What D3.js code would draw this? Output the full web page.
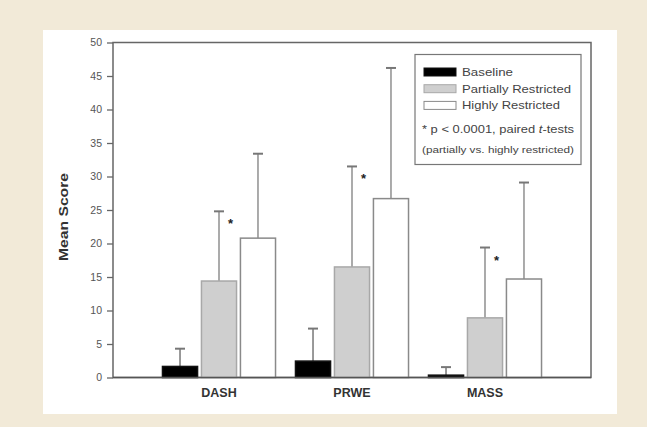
<!DOCTYPE html>
<html>
<head>
<meta charset="utf-8">
<script src="https://cdn.jsdelivr.net/npm/d3@7"></script>
<style>
  body { margin: 0; background: #f2ead8; }
  svg { display: block; font-family: "Liberation Sans", Arial, sans-serif; }
</style>
</head>
<body>
<div id="chart"></div>
<script>
// data
const categories = ["DASH", "PRWE", "MASS"];
const seriesNames = ["Baseline", "Partially Restricted", "Highly Restricted"];
const baselineMean = [1.65, 2.45, 0.35];
const baselineSD = [2.65, 4.85, 1.2];
const partialMean = [14.4, 16.5, 8.9];
const partialSD = [10.4, 15.0, 10.5];
const highMean = [20.8, 26.7, 14.7];
const highSD = [12.6, 19.5, 14.4];
const starValues = [23.1, 29.8, 17.5];
const yTicks = [0, 5, 10, 15, 20, 25, 30, 35, 40, 45, 50];

main();

function main() {
    const W = 647, H = 427;
    const left = 113, right = 591, top = 42.5, bottom = 377.5;

    const fills = {"Baseline": "#000000", "Partially Restricted": "#cfcfcf", "Highly Restricted": "#ffffff"};
    const strokes = {"Baseline": "#111111", "Partially Restricted": "#a8a8a8", "Highly Restricted": "#8a8a8a"};
    const legendWidths = {"Baseline": 51, "Partially Restricted": 109, "Highly Restricted": 98};

    const means = [baselineMean, partialMean, highMean];
    const sds = [baselineSD, partialSD, highSD];

    let bars = [];
    categories.forEach((c, i) => {
        seriesNames.forEach((s, j) => {
            bars.push({cat: c, series: s, mean: means[j][i], sd: sds[j][i]});
        });
    });

    let svg = d3.select("#chart").append("svg")
        .attr("width", W)
        .attr("height", H);

    // white panel
    svg.append("rect")
        .attr("x", 43).attr("y", 30)
        .attr("width", 574).attr("height", 384)
        .attr("fill", "#ffffff");

    let x = d3.scaleBand()
        .domain(categories)
        .range([left, right])
        .paddingInner(0.15)
        .paddingOuter(0.372);

    let xs = d3.scaleBand()
        .domain(seriesNames)
        .range([0, x.bandwidth()])
        .paddingInner(0.1);

    let y = d3.scaleLinear()
        .domain([0, 50])
        .range([bottom, top]);

    // frame
    svg.append("rect")
        .attr("x", left).attr("y", top)
        .attr("width", right - left).attr("height", bottom - top)
        .attr("fill", "none")
        .attr("stroke", "#666")
        .attr("stroke-width", 1.5);

    // y axis
    let yAxis = svg.append("g")
        .attr("transform", "translate(" + left + ",0)")
        .call(d3.axisLeft(y).tickValues(yTicks).tickSize(6).tickPadding(5));
    yAxis.select(".domain").remove();
    yAxis.selectAll("line").attr("stroke", "#666").attr("stroke-width", 1.3);
    yAxis.selectAll("text")
        .attr("fill", "#555")
        .style("font-size", "10.5px");

    // error bars (upper only)
    let g = svg.append("g");
    let errs = g.selectAll(".err")
        .data(bars)
        .enter()
        .append("g")
        .attr("class", "err");
    errs.append("line")
        .attr("x1", d => x(d.cat) + xs(d.series) + xs.bandwidth() / 2)
        .attr("x2", d => x(d.cat) + xs(d.series) + xs.bandwidth() / 2)
        .attr("y1", d => y(d.mean))
        .attr("y2", d => y(d.mean + d.sd))
        .attr("stroke", d => d.series === "Baseline" ? "#777" : "#8f8f8f")
        .attr("stroke-width", 1.5);
    errs.append("line")
        .attr("x1", d => x(d.cat) + xs(d.series) + xs.bandwidth() / 2 - 5)
        .attr("x2", d => x(d.cat) + xs(d.series) + xs.bandwidth() / 2 + 5)
        .attr("y1", d => y(d.mean + d.sd))
        .attr("y2", d => y(d.mean + d.sd))
        .attr("stroke", "#777")
        .attr("stroke-width", 2);

    // bars
    g.selectAll(".bar")
        .data(bars)
        .enter()
        .append("rect")
        .attr("class", "bar")
        .attr("x", d => x(d.cat) + xs(d.series))
        .attr("y", d => y(d.mean))
        .attr("width", xs.bandwidth())
        .attr("height", d => y(0) - y(d.mean))
        .attr("fill", d => fills[d.series])
        .attr("stroke", d => strokes[d.series])
        .attr("stroke-width", 1.5);

    // significance stars
    svg.selectAll(".star")
        .data(categories)
        .enter()
        .append("text")
        .attr("class", "star")
        .attr("x", (d, i) => x(d) + xs("Partially Restricted") + xs.bandwidth() * 0.83)
        .attr("y", (d, i) => y(starValues[i]) + 5)
        .attr("text-anchor", "middle")
        .attr("fill", "#222")
        .style("font-size", "13px")
        .style("font-weight", "bold")
        .text("*");

    // baseline axis line
    svg.append("line")
        .attr("x1", left).attr("x2", right)
        .attr("y1", bottom).attr("y2", bottom)
        .attr("stroke", "#555")
        .attr("stroke-width", 1.5);

    // category labels
    svg.selectAll(".cat")
        .data(categories)
        .enter()
        .append("text")
        .attr("class", "cat")
        .attr("x", d => x(d) + x.bandwidth() / 2)
        .attr("y", 396.5)
        .attr("text-anchor", "middle")
        .attr("fill", "#333")
        .style("font-size", "12.5px")
        .style("font-weight", "bold")
        .text(d => d);

    // y axis title
    svg.append("text")
        .attr("transform", "translate(68,217) rotate(-90)")
        .attr("text-anchor", "middle")
        .attr("fill", "#333")
        .attr("textLength", 88)
        .attr("lengthAdjust", "spacingAndGlyphs")
        .style("font-size", "13.5px")
        .style("font-weight", "bold")
        .text("Mean Score");

    // legend
    let lg = svg.append("g");
    lg.append("rect")
        .attr("x", 415).attr("y", 54.5)
        .attr("width", 166).attr("height", 110)
        .attr("fill", "#fff")
        .attr("stroke", "#777")
        .attr("stroke-width", 1.2);

    let items = lg.selectAll(".item")
        .data(seriesNames)
        .enter()
        .append("g")
        .attr("class", "item")
        .attr("transform", (d, i) => "translate(0," + (72 + i * 16.7) + ")");
    items.append("rect")
        .attr("x", 424).attr("y", -4)
        .attr("width", 32).attr("height", 8)
        .attr("fill", d => fills[d])
        .attr("stroke", d => strokes[d])
        .attr("stroke-width", 1);
    items.append("text")
        .attr("x", 462).attr("y", 4)
        .attr("fill", "#444")
        .attr("textLength", d => legendWidths[d])
        .attr("lengthAdjust", "spacingAndGlyphs")
        .style("font-size", "10.5px")
        .text(d => d);

    let note1 = lg.append("text")
        .attr("x", 422).attr("y", 133)
        .attr("fill", "#444")
        .attr("textLength", 152)
        .attr("lengthAdjust", "spacingAndGlyphs")
        .style("font-size", "10.5px");
    note1.append("tspan").text("* p < 0.0001, paired ");
    note1.append("tspan").style("font-style", "italic").text("t");
    note1.append("tspan").text("-tests");

    lg.append("text")
        .attr("x", 422).attr("y", 153)
        .attr("fill", "#444")
        .attr("textLength", 152)
        .attr("lengthAdjust", "spacingAndGlyphs")
        .style("font-size", "9px")
        .text("(partially vs. highly restricted)");
}
</script>
</body>
</html>
